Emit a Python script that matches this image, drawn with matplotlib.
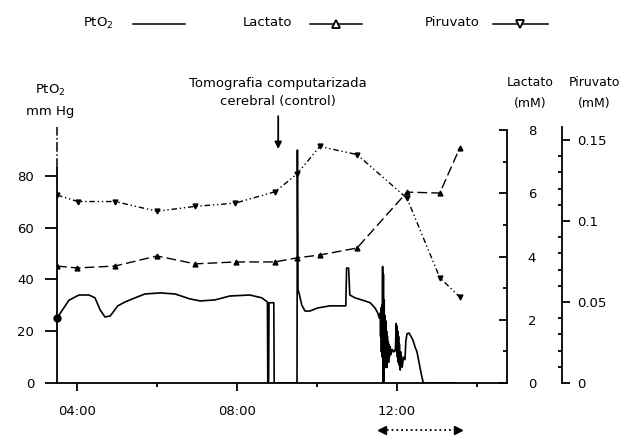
import matplotlib as mpl
mpl.use('Agg')
import matplotlib.pyplot as plt
from matplotlib.lines import Line2D
from matplotlib.ticker import MultipleLocator, FixedLocator

plt.rcParams['font.family'] = ['DejaVu Sans']
plt.rcParams['font.size'] = 9.5

# PtO2 (mm Hg), time in hours (10 values per line)
pto2_time = [3.5, 3.6, 3.8, 4.05, 4.3, 4.45, 4.58, 4.7, 4.83, 5.02,
             5.2, 5.45, 5.7, 6.08, 6.45, 6.82, 7.08, 7.45, 7.82, 8.32,
             8.62, 8.76, 8.77, 8.79, 8.80, 8.92, 8.93, 9.49, 9.50, 9.51,
             9.525, 9.55, 9.62, 9.70, 9.82, 10.02, 10.32, 10.72, 10.74, 10.79,
             10.82, 10.95, 11.2, 11.33, 11.45, 11.52, 11.56, 11.58, 11.59, 11.60,
             11.61, 11.62, 11.63, 11.64, 11.65, 11.66, 11.67, 11.68, 11.69, 11.70,
             11.71, 11.72, 11.73, 11.74, 11.75, 11.76, 11.77, 11.78, 11.79, 11.80,
             11.81, 11.83, 11.85, 11.88, 11.92, 11.96, 11.98, 11.99, 12.0, 12.01,
             12.02, 12.03, 12.04, 12.05, 12.06, 12.08, 12.1, 12.13, 12.16, 12.2,
             12.22, 12.25, 12.3, 12.35, 12.4, 12.45, 12.5, 12.55, 12.6, 12.65,
             12.68, 13.45]
pto2_value = [25, 27.4, 32, 34, 34, 32.9, 28.2, 25.5, 25.9, 29.8,
              31.3, 32.9, 34.4, 34.8, 34.4, 32.5, 31.7, 32.1, 33.6, 34,
              32.9, 31.3, 0, 0, 31, 31, 0, 0, 0, 90,
              36, 34.8, 30.1, 27.8, 27.8, 29, 29.8, 29.8, 44.4, 44.4,
              34, 32.9, 31.7, 31, 29, 27, 25, 27, 18, 29,
              12, 30, 10, 45, 0, 42, 0, 32, 8, 26,
              6, 24, 7, 20, 6, 18, 9, 16, 8, 15,
              10, 14, 11, 13, 12, 13, 23, 12, 22, 10,
              20, 8, 18, 7, 15, 5, 12, 6, 10, 9,
              16, 19, 19.3, 18, 16.5, 14, 12, 8, 4, 0.5,
              0, 0]

# lactate (mM)
lactate_time = [3.5, 4.0, 4.95, 6.0, 6.95, 7.98, 8.95, 9.5, 10.07, 11.0, 12.25, 13.07, 13.57]
lactate_value = [3.70, 3.64, 3.70, 4.02, 3.77, 3.83, 3.83, 3.96, 4.05, 4.27, 6.04, 6.01, 7.44]

# pyruvate (mM)
pyruvate_time = [3.5, 4.02, 4.95, 6.0, 6.95, 7.95, 8.95, 9.5, 10.07, 11.0, 12.25, 13.07, 13.57]
pyruvate_value = [0.116, 0.112, 0.112, 0.106, 0.109, 0.111, 0.118, 0.129, 0.146, 0.141,
                  0.114, 0.065, 0.053]

hour_ticks = [4, 8, 12]
hour_labels = ['04:00', '08:00', '12:00']
hour_minor = [6, 10, 14]
ct_time = 9.03
period_start, period_end = 11.62, 13.53

W, H = 629, 437


def fx(px):
    return px / W


def fy(py):
    return 1 - py / H


fig = plt.figure(figsize=(W / 100, H / 100), dpi=100)
ax = fig.add_axes([fx(57), fy(383), 450 / W, 256 / H])
ax.set_xlim(3.5, 14.75)
ax.set_ylim(0, 98.9)

for s in ['top', 'right']:
    ax.spines[s].set_visible(False)
for s in ['left', 'bottom']:
    ax.spines[s].set_linewidth(1.3)
ax.spines['left'].set_bounds(0, 83)
# dash-dot continuation of the PtO2 axis
ax.plot([0, 0], [83, 99], transform=ax.get_yaxis_transform(), color='black',
        lw=1.1, ls='-.', clip_on=False)

ax.set_yticks([0, 20, 40, 60, 80])
ax.tick_params(axis='y', direction='out', length=8.5, width=1.3, pad=8)
ax.set_xticks(hour_ticks, hour_labels)
ax.xaxis.set_minor_locator(FixedLocator(hour_minor))
ax.tick_params(axis='x', which='major', direction='out', length=6, width=1.3, pad=10)
ax.tick_params(axis='x', which='minor', direction='out', length=3, width=1.3)

# lactate axis
axl = ax.twinx()
axl.set_ylim(0, 8.1)
for s in ['top', 'left', 'bottom']:
    axl.spines[s].set_visible(False)
axl.spines['right'].set_linewidth(1.3)
axl.spines['right'].set_bounds(0, 8)
axl.set_yticks([0, 2, 4, 6, 8])
axl.yaxis.set_minor_locator(MultipleLocator(1))
axl.tick_params(axis='y', which='major', direction='in', length=6, width=1.3, pad=15)
axl.tick_params(axis='y', which='minor', direction='in', length=3, width=1.3)

# pyruvate axis
axp = ax.twinx()
axp.set_ylim(0, 0.158)
for s in ['top', 'left', 'bottom']:
    axp.spines[s].set_visible(False)
axp.spines['right'].set_position(('axes', 1 + 55 / 450))
axp.spines['right'].set_linewidth(1.3)
axp.set_yticks([0, 0.05, 0.1, 0.15], ['0', '0.05', '0.1', '0.15'])
axp.yaxis.set_minor_locator(MultipleLocator(0.01))
axp.tick_params(axis='y', which='major', direction='out', length=6, width=1.3, pad=5)
axp.tick_params(axis='y', which='minor', direction='in', length=3, width=1.3)

ax.plot(pto2_time, pto2_value, color='black', lw=1.2)
ax.plot(pto2_time[:1], pto2_value[:1], 'o', ms=5, color='black', clip_on=False)
axl.plot(lactate_time, lactate_value, color='black', lw=1, ls=(0, (7, 3)),
         marker='^', ms=3.5)
axp.plot(pyruvate_time, pyruvate_value, color='black', lw=1, ls=(0, (4, 2, 1, 2, 1, 2)),
         marker='v', ms=3.5)

ax.annotate('Tomografia computarizada\ncerebral (control)', xy=(ct_time, 90.4),
            xytext=(ct_time, 112.3), ha='center', va='center', linespacing=1.5,
            annotation_clip=False,
            arrowprops=dict(arrowstyle='-|>', color='black', lw=1.3, shrinkA=4,
                            shrinkB=0, mutation_scale=10))

# dotted period marker under the time axis
trans = ax.get_xaxis_transform()
ax.plot([period_start, period_end], [-0.184, -0.184], transform=trans, color='black',
        lw=1.3, ls=':', clip_on=False)
ax.plot([period_start], [-0.184], transform=trans, marker='<', ms=6, color='black',
        clip_on=False)
ax.plot([period_end], [-0.184], transform=trans, marker='>', ms=6, color='black',
        clip_on=False)

# axis headers
fig.text(fx(50), fy(90), 'PtO$_2$', ha='center', va='center')
fig.text(fx(50), fy(111), 'mm Hg', ha='center', va='center')
fig.text(fx(530), fy(83), 'Lactato', ha='center', va='center', fontsize=9)
fig.text(fx(530), fy(103), '(mM)', ha='center', va='center', fontsize=9)
fig.text(fx(594), fy(83), 'Piruvato', ha='center', va='center', fontsize=9)
fig.text(fx(594), fy(103), '(mM)', ha='center', va='center', fontsize=9)

# legend row
fig.text(fx(83), fy(23), 'PtO$_2$', ha='left', va='center')
fig.add_artist(Line2D([fx(133), fx(185)], [fy(24), fy(24)], color='black', lw=1.1))
fig.text(fx(243), fy(23), 'Lactato', ha='left', va='center')
fig.add_artist(Line2D([fx(310), fx(362)], [fy(24), fy(24)], color='black', lw=1.1))
fig.add_artist(Line2D([fx(336)], [fy(24)], marker='^', ms=6, mfc='white',
                      mec='black', mew=1.3))
fig.text(fx(425), fy(23), 'Piruvato', ha='left', va='center')
fig.add_artist(Line2D([fx(493), fx(548)], [fy(24), fy(24)], color='black', lw=1.1))
fig.add_artist(Line2D([fx(520)], [fy(24)], marker='v', ms=6, mfc='white',
                      mec='black', mew=1.3))

fig.savefig('out.png', dpi=100)
